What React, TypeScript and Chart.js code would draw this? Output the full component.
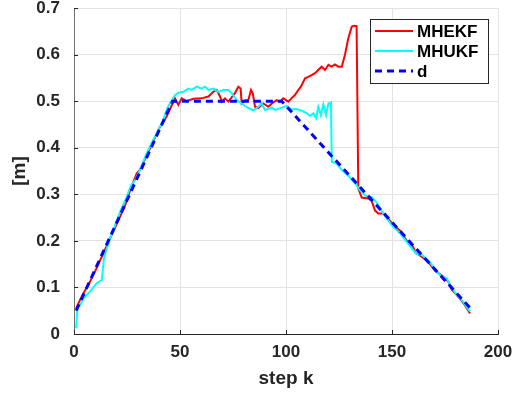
import React, { useEffect, useRef } from 'react';
import { Chart, registerables } from 'chart.js';
Chart.register(...registerables);

const mhekfSteps = [1, 3, 5, 7.5, 10, 13, 16, 20, 24, 27, 29.6, 31, 34, 37, 40, 43.7, 45.3, 47.6, 49.2, 50.8, 53.1, 56.3, 60.2, 63.4, 65.7, 67.3, 68.9, 69.7, 71.2, 72.8, 75.9, 77.5, 78.6, 79.1, 80.7, 82.2, 83.5, 84.3, 85.4, 86.9, 89.3, 91.7, 93.3, 95.6, 97.2, 98.7, 101.1, 102.5, 104.2, 105.8, 107, 109, 110.5, 112.1, 113.7, 115.2, 116.8, 118.4, 120, 121.5, 123.1, 124.7, 126.3, 127.8, 129.4, 131, 132.1, 133.3, 134.1, 135.7, 138.8, 140.4, 142, 143.5, 145.9, 147.5, 150.6, 153.8, 156.9, 160, 161, 164, 167.1, 170.3, 174.2, 176.6, 178.2, 181.3, 184.4, 186.8];
const mhekfValues = [0.055, 0.075, 0.092, 0.112, 0.135, 0.165, 0.195, 0.235, 0.275, 0.315, 0.345, 0.352, 0.38, 0.41, 0.44, 0.467, 0.483, 0.506, 0.492, 0.506, 0.5, 0.505, 0.506, 0.51, 0.52, 0.524, 0.51, 0.499, 0.506, 0.499, 0.517, 0.531, 0.527, 0.495, 0.502, 0.502, 0.524, 0.517, 0.488, 0.485, 0.495, 0.488, 0.495, 0.502, 0.499, 0.506, 0.499, 0.506, 0.513, 0.524, 0.531, 0.549, 0.552, 0.556, 0.56, 0.567, 0.574, 0.567, 0.578, 0.574, 0.579, 0.574, 0.574, 0.599, 0.635, 0.66, 0.662, 0.661, 0.313, 0.293, 0.291, 0.286, 0.265, 0.259, 0.259, 0.252, 0.234, 0.222, 0.2, 0.187, 0.175, 0.166, 0.155, 0.136, 0.123, 0.112, 0.095, 0.08, 0.062, 0.044];

const mhukfSteps = [1, 1.6, 2.8, 4.4, 7.5, 10.7, 13.1, 14.2, 17, 21.7, 24, 27, 28.8, 31.1, 34, 37.4, 40, 42.1, 44, 46.1, 47.6, 49.2, 51.6, 53.9, 55.5, 57.9, 60.2, 61.8, 63.4, 65.7, 68.1, 70.4, 72.8, 74.4, 76.7, 79.1, 81.5, 84.6, 86.9, 88.5, 90.1, 93.3, 94.8, 98, 100.3, 102.7, 105, 107, 109.5, 111.3, 112.9, 114.2, 115.2, 116.4, 117.6, 118.9, 120, 121.2, 121.6, 123.9, 126.3, 129.4, 132.5, 134.9, 137.3, 140.4, 142.8, 144.3, 147.5, 150.6, 153.8, 156.9, 160, 161.5, 164, 167.9, 170.3, 173.4, 175.8, 177.4, 180.5, 183.6, 186.8];
const mhukfValues = [0.012, 0.055, 0.062, 0.076, 0.091, 0.109, 0.116, 0.165, 0.205, 0.262, 0.285, 0.32, 0.33, 0.352, 0.385, 0.417, 0.44, 0.46, 0.485, 0.502, 0.513, 0.518, 0.52, 0.527, 0.524, 0.531, 0.527, 0.531, 0.524, 0.527, 0.52, 0.524, 0.524, 0.517, 0.502, 0.495, 0.487, 0.48, 0.488, 0.495, 0.481, 0.486, 0.481, 0.486, 0.49, 0.482, 0.483, 0.48, 0.475, 0.468, 0.474, 0.463, 0.488, 0.47, 0.493, 0.47, 0.495, 0.497, 0.37, 0.366, 0.352, 0.34, 0.324, 0.309, 0.297, 0.294, 0.282, 0.27, 0.248, 0.23, 0.216, 0.198, 0.18, 0.172, 0.17, 0.155, 0.137, 0.123, 0.12, 0.105, 0.084, 0.069, 0.048];

const dSteps = [1, 46.5, 98, 187];
const dValues = [0.05, 0.5, 0.5, 0.055];

const seriesLabels = ['MHEKF', 'MHUKF', 'd'];
const xTickValues = [0, 50, 100, 150, 200];
const xTickLabels = ['0', '50', '100', '150', '200'];
const yTickValues = [0, 0.1, 0.2, 0.3, 0.4, 0.5, 0.6, 0.7];
const yTickLabels = ['0', '0.1', '0.2', '0.3', '0.4', '0.5', '0.6', '0.7'];
const xTitle = 'step k';
const yTitle = '[m]';

const FONT = '"Liberation Sans", Arial, Helvetica, sans-serif';
const TEXT = '#262626';

const toPoints = (xs: number[], ys: number[]) => xs.map((x, i) => ({ x, y: ys[i] }));

const legendPlugin = {
  id: 'boxLegend',
  afterDraw(chart: any) {
    const { ctx, chartArea } = chart;
    const w = 118, h = 64;
    const x0 = chartArea.right - 10 - w;
    const y0 = chartArea.top + 11;
    ctx.save();
    ctx.fillStyle = '#ffffff';
    ctx.fillRect(x0, y0, w, h);
    ctx.strokeStyle = '#262626';
    ctx.lineWidth = 1;
    ctx.strokeRect(x0 + 0.5, y0 + 0.5, w, h);
    chart.data.datasets.forEach((ds: any, i: number) => {
      const yy = y0 + 12 + i * 20;
      ctx.beginPath();
      ctx.strokeStyle = ds.borderColor;
      ctx.lineWidth = ds.borderWidth;
      ctx.setLineDash(ds.borderDash || []);
      ctx.moveTo(x0 + 5, yy);
      ctx.lineTo(x0 + 43, yy);
      ctx.stroke();
      ctx.setLineDash([]);
      ctx.fillStyle = '#000000';
      ctx.font = `bold 17px ${FONT}`;
      ctx.textBaseline = 'middle';
      ctx.textAlign = 'left';
      ctx.fillText(ds.label, x0 + 47, yy + 1);
    });
    ctx.restore();
  },
};

const tickMarkPlugin = {
  id: 'innerTicks',
  afterDatasetsDraw(chart: any) {
    const { ctx, chartArea, scales } = chart;
    ctx.save();
    ctx.strokeStyle = '#262626';
    ctx.lineWidth = 1;
    ctx.beginPath();
    scales.x.ticks.forEach((t: any) => {
      const px = Math.round(scales.x.getPixelForValue(t.value)) + 0.5;
      ctx.moveTo(px, chartArea.bottom);
      ctx.lineTo(px, chartArea.bottom - 4);
    });
    scales.y.ticks.forEach((t: any) => {
      const py = Math.round(scales.y.getPixelForValue(t.value)) + 0.5;
      ctx.moveTo(chartArea.left, py);
      ctx.lineTo(chartArea.left + 4, py);
    });
    ctx.stroke();
    ctx.restore();
  },
};

export default function App() {
  const ref = useRef<HTMLCanvasElement>(null);
  useEffect(() => {
    document.body.style.margin = '0';
    const canvas = ref.current!;
    const chart = new Chart(canvas, {
      type: 'line',
      data: {
        datasets: [
          { label: seriesLabels[0], data: toPoints(mhekfSteps, mhekfValues), borderColor: '#ff0000', borderWidth: 2, pointRadius: 0, tension: 0, order: 3, fill: false },
          { label: seriesLabels[1], data: toPoints(mhukfSteps, mhukfValues), borderColor: '#00ffff', borderWidth: 2, pointRadius: 0, tension: 0, order: 2, fill: false },
          { label: seriesLabels[2], data: toPoints(dSteps, dValues), borderColor: '#0000ff', borderWidth: 3, borderDash: [7, 5], pointRadius: 0, tension: 0, order: 1, fill: false },
        ],
      },
      options: {
        animation: false,
        responsive: false,
        layout: { padding: { top: 8, right: 26, left: 0, bottom: 0 } },
        plugins: { legend: { display: false }, tooltip: { enabled: false } },
        scales: {
          x: {
            type: 'linear',
            min: 0,
            max: 200,
            afterBuildTicks: (s: any) => { s.ticks = xTickValues.map((v) => ({ value: v })); },
            afterFit: (s: any) => { s.height = 60; s.paddingLeft = 0; s.paddingRight = 0; },
            grid: { color: '#e3e3e3', drawTicks: false },
            border: { color: '#262626', width: 1 },
            ticks: { color: TEXT, font: { family: FONT, size: 17, weight: 'bold' }, padding: 8, maxRotation: 0, callback: (_v: any, i: number) => xTickLabels[i] },
            title: { display: true, text: xTitle, color: TEXT, font: { family: FONT, size: 19, weight: 'bold' }, padding: { top: 0, bottom: 4 } },
          },
          y: {
            type: 'linear',
            min: 0,
            max: 0.7,
            afterBuildTicks: (s: any) => { s.ticks = yTickValues.map((v) => ({ value: v })); },
            afterFit: (s: any) => { s.width = 74; s.paddingTop = 0; s.paddingBottom = 0; },
            grid: { color: '#e3e3e3', drawTicks: false },
            border: { color: '#707070', width: 1 },
            ticks: { color: TEXT, font: { family: FONT, size: 17, weight: 'bold' }, padding: 14, callback: (_v: any, i: number) => yTickLabels[i] },
            title: { display: true, text: yTitle, color: TEXT, font: { family: FONT, size: 19, weight: 'bold' }, padding: { top: 8, bottom: 0 } },
          },
        },
      },
      plugins: [legendPlugin, tickMarkPlugin],
    } as any);
    return () => chart.destroy();
  }, []);
  return <canvas ref={ref} width={524} height={394} style={{ display: 'block' }} />;
}
